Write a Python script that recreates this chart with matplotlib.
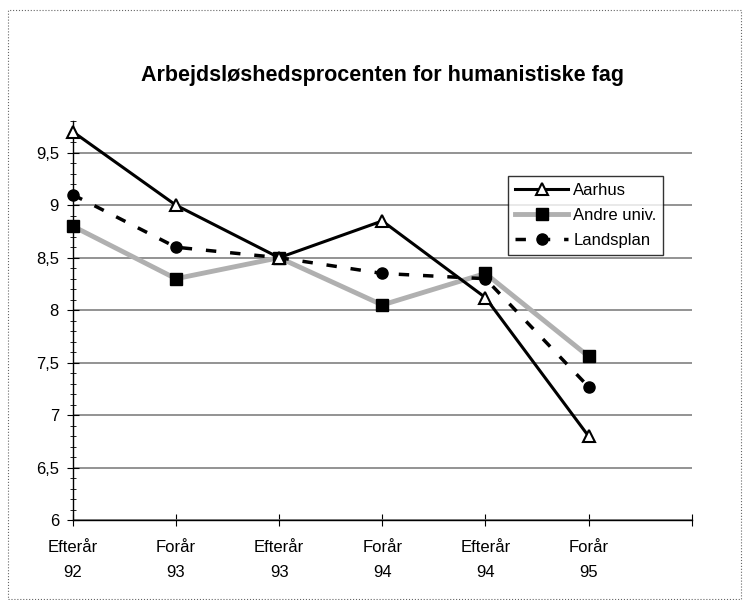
import matplotlib.pyplot as plt
from matplotlib.patches import Rectangle
from matplotlib.ticker import MultipleLocator, FuncFormatter

plt.rcParams['font.family'] = ['Liberation Sans', 'DejaVu Sans']

# Data
perioder = ['Efterår\n92', 'Forår\n93', 'Efterår\n93', 'Forår\n94', 'Efterår\n94', 'Forår\n95']
aarhus = [9.7, 9.0, 8.5, 8.85, 8.12, 6.8]
andre_univ = [8.8, 8.3, 8.5, 8.05, 8.35, 7.56]
landsplan = [9.1, 8.6, 8.5, 8.35, 8.3, 7.27]

fig = plt.figure(figsize=(7.43, 6.0), dpi=100)
ax = fig.add_axes([0.098, 0.133, 0.833, 0.665])

x = list(range(len(perioder)))

ax.plot(x, andre_univ, color='#b0b0b0', lw=3.5, marker='s', ms=8,
        mfc='black', mec='black', label='Andre univ.', zorder=3, clip_on=False)
ax.plot(x, landsplan, color='black', lw=2.5, ls=(0, (3, 4)), marker='o', ms=8,
        mfc='black', mec='black', label='Landsplan', zorder=4, clip_on=False)
ax.plot(x, aarhus, color='black', lw=2.2, marker='^', ms=9,
        mfc='white', mec='black', mew=1.5, label='Aarhus', zorder=5, clip_on=False)

ax.set_xlim(0, 6)
ax.set_ylim(6, 9.8)

ax.set_xticks(range(7))
ax.set_xticklabels(perioder + [''], fontsize=12, linespacing=1.9)
ax.tick_params(axis='x', direction='inout', length=8, pad=10)

ax.yaxis.set_major_locator(MultipleLocator(0.5))
ax.yaxis.set_minor_locator(MultipleLocator(0.1))
ax.yaxis.set_major_formatter(FuncFormatter(lambda v, p: ('%g' % v).replace('.', ',')))
ax.tick_params(axis='y', which='major', direction='inout', length=8, labelsize=12, pad=6)
ax.tick_params(axis='y', which='minor', direction='inout', length=5)

ax.grid(axis='y', which='major', color='#808080', lw=1.2)
for s in ['top', 'right']:
    ax.spines[s].set_visible(False)
ax.spines['left'].set_linewidth(1)
ax.spines['bottom'].set_linewidth(1)

# legend in the order Aarhus, Andre univ., Landsplan
h, l = ax.get_legend_handles_labels()
order = [2, 0, 1]
leg = ax.legend([h[i] for i in order], [l[i] for i in order],
                loc='upper left', bbox_to_anchor=(500 / 743, 1 - 168 / 600),
                bbox_transform=fig.transFigure, fontsize=12, frameon=True,
                fancybox=False, edgecolor='black', handlelength=3.2,
                borderpad=0.4, labelspacing=0.6, handletextpad=0.3)
leg.get_frame().set_linewidth(1)

fig.text(0.515, 0.875, 'Arbejdsløshedsprocenten for humanistiske fag',
         ha='center', va='center', fontsize=15.5, fontweight='bold')

fig.patches.append(Rectangle((0.011, 0.002), 0.986, 0.981, transform=fig.transFigure,
                             fill=False, edgecolor='#666666', lw=0.8, ls=':'))

fig.savefig('out.png', dpi=100)
